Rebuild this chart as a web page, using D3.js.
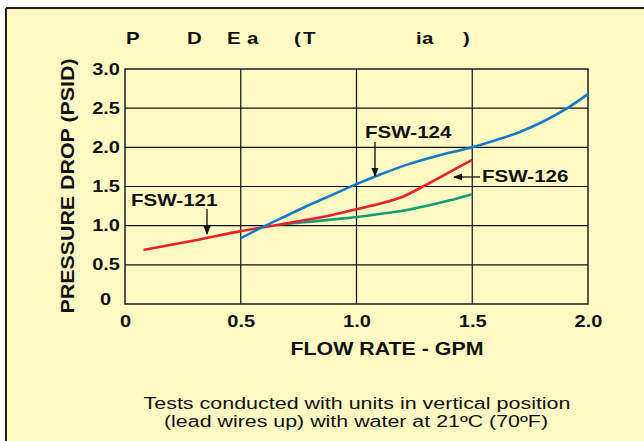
<!DOCTYPE html>
<html>
<head>
<meta charset="utf-8">
<script src="https://cdn.jsdelivr.net/npm/d3@7"></script>
<style>
  body { margin: 0; background: #fff; }
  text { font-family: "Liberation Sans", Arial, sans-serif; fill: #111; }
  .bold { font-weight: bold; }
</style>
</head>
<body>
<div id="chart"></div>
<script>
// tick values
var xTicks = [0, 0.5, 1.0, 1.5, 2.0];
var yTicks = [0, 0.5, 1.0, 1.5, 2.0, 2.5, 3.0];

// curves: [flow GPM, drop PSID]
var fsw121 = [[0.08, 0.69], [0.3, 0.81], [0.5, 0.93], [0.7, 1.03], [0.9, 1.14], [1.0, 1.21],
              [1.1, 1.28], [1.2, 1.37], [1.3, 1.52], [1.4, 1.68], [1.5, 1.84]];
var fsw124 = [[0.5, 0.84], [0.6, 0.99], [0.7, 1.13], [0.8, 1.27], [0.9, 1.40], [1.0, 1.53],
              [1.1, 1.65], [1.2, 1.76], [1.3, 1.85], [1.4, 1.93], [1.5, 2.0], [1.6, 2.09],
              [1.7, 2.19], [1.8, 2.32], [1.9, 2.48], [2.0, 2.68]];
var fsw126 = [[0.68, 1.02], [0.8, 1.05], [0.9, 1.08], [1.0, 1.11], [1.1, 1.15], [1.2, 1.19],
              [1.3, 1.25], [1.4, 1.32], [1.5, 1.40]];

// title as it shows in the picture (glyphs missing)
var titleParts = [["P", 126], ["D", 187], ["E", 227], ["a", 247], ["(", 294], ["T", 303],
                  ["i", 416], ["a", 422], [")", 463]];

var W = 644, H = 441;
var svg = d3.select("#chart").append("svg")
    .attr("width", W)
    .attr("height", H);

// the reference text is wide, stretch it sideways
function stretch(sel, k) {
    sel.each(function() {
        var w = this.getComputedTextLength();
        d3.select(this).attr("textLength", w * k).attr("lengthAdjust", "spacingAndGlyphs");
    });
}

// page background + frame lines
svg.append("rect").attr("x", 6).attr("y", 8).attr("width", W - 6).attr("height", H - 8)
    .attr("fill", "#fff9c4");
svg.append("line").attr("x1", 6).attr("y1", 8).attr("x2", W).attr("y2", 8)
    .attr("stroke", "#222").attr("stroke-width", 2);
svg.append("line").attr("x1", 6).attr("y1", 8).attr("x2", 6).attr("y2", H)
    .attr("stroke", "#222").attr("stroke-width", 2);

// scales
var x = d3.scaleLinear().domain([0, 2]).range([125, 588]);
var y = d3.scaleLinear().domain([0, 3]).range([304, 69]);

// grid
svg.append("g")
    .selectAll("line")
    .data(xTicks.slice(1, -1))
    .enter().append("line")
    .attr("x1", function(d) { return x(d); })
    .attr("x2", function(d) { return x(d); })
    .attr("y1", y(3)).attr("y2", y(0))
    .attr("stroke", "#111").attr("stroke-width", 1.2);
svg.append("g")
    .selectAll("line")
    .data(yTicks.slice(1, -1))
    .enter().append("line")
    .attr("x1", x(0)).attr("x2", x(2))
    .attr("y1", function(d) { return y(d); })
    .attr("y2", function(d) { return y(d); })
    .attr("stroke", "#111").attr("stroke-width", 1.2);
svg.append("rect")
    .attr("x", x(0)).attr("y", y(3))
    .attr("width", x(2) - x(0)).attr("height", y(0) - y(3))
    .attr("fill", "none").attr("stroke", "#111").attr("stroke-width", 1.4);

var fmt = function(d) { return d === 0 ? "0" : d3.format(".1f")(d); };

// axes (labels only)
var xAxis = svg.append("g")
    .attr("transform", "translate(0," + y(0) + ")")
    .call(d3.axisBottom(x).tickValues(xTicks).tickSize(0).tickPadding(12).tickFormat(fmt));
xAxis.select(".domain").remove();
xAxis.selectAll("text").attr("class", "bold").style("font-size", "16px")
    .style("font-family", "Liberation Sans, Arial, sans-serif").attr("fill", "#111");
stretch(xAxis.selectAll("text"), 1.25);

var yAxis = svg.append("g")
    .attr("transform", "translate(" + (x(0) - 5) + ",0)")
    .call(d3.axisLeft(y).tickValues(yTicks).tickSize(0).tickPadding(0).tickFormat(fmt));
yAxis.select(".domain").remove();
yAxis.selectAll("text").attr("class", "bold").style("font-size", "16px")
    .style("font-family", "Liberation Sans, Arial, sans-serif").attr("fill", "#111");
yAxis.selectAll(".tick").filter(function(d) { return d === 0; })
    .select("text").attr("x", -9).attr("y", -5);
stretch(yAxis.selectAll("text"), 1.25);

// curves
var line = d3.line()
    .x(function(d) { return x(d[0]); })
    .y(function(d) { return y(d[1]); })
    .curve(d3.curveMonotoneX);

[[fsw126, "#0f9e78"], [fsw121, "#e8202c"], [fsw124, "#1479c9"]].forEach(function(s) {
    svg.append("path")
        .datum(s[0])
        .attr("d", line)
        .attr("fill", "none")
        .attr("stroke", s[1])
        .attr("stroke-width", 2.6);
});

// arrow marker
svg.append("defs").append("marker")
    .attr("id", "arr")
    .attr("viewBox", "0 0 10 10")
    .attr("refX", 9).attr("refY", 5)
    .attr("markerWidth", 7).attr("markerHeight", 7)
    .attr("orient", "auto")
    .append("path").attr("d", "M0,1 L10,5 L0,9 Z").attr("fill", "#111");

// series labels
var labels = svg.append("g");
labels.append("text").attr("class", "bold").attr("x", 131).attr("y", 206)
    .style("font-size", "17px").text("FSW-121");
labels.append("text").attr("class", "bold").attr("x", 365).attr("y", 138)
    .style("font-size", "17px").text("FSW-124");
labels.append("text").attr("class", "bold").attr("x", 482).attr("y", 182)
    .style("font-size", "17px").text("FSW-126");
stretch(labels.selectAll("text"), 1.21);

svg.append("line").attr("x1", 207).attr("y1", 209).attr("x2", 207).attr("y2", 234)
    .attr("stroke", "#111").attr("stroke-width", 1.3).attr("marker-end", "url(#arr)");
svg.append("line").attr("x1", 375).attr("y1", 142).attr("x2", 375).attr("y2", 176)
    .attr("stroke", "#111").attr("stroke-width", 1.3).attr("marker-end", "url(#arr)");
svg.append("line").attr("x1", 480).attr("y1", 177).attr("x2", 454).attr("y2", 177)
    .attr("stroke", "#111").attr("stroke-width", 1.3).attr("marker-end", "url(#arr)");

// title fragments
var title = svg.append("g");
title.selectAll("text")
    .data(titleParts)
    .enter().append("text")
    .attr("class", "bold")
    .attr("x", function(d) { return d[1]; })
    .attr("y", 44)
    .style("font-size", "17px")
    .text(function(d) { return d[0]; });
stretch(title.selectAll("text"), 1.2);

// axis titles
svg.append("text").attr("class", "bold")
    .attr("transform", "translate(74,186) rotate(-90)")
    .attr("text-anchor", "middle")
    .style("font-size", "18px")
    .attr("textLength", 255).attr("lengthAdjust", "spacingAndGlyphs")
    .text("PRESSURE DROP (PSID)");
svg.append("text").attr("class", "bold")
    .attr("x", 387).attr("y", 355)
    .attr("text-anchor", "middle")
    .style("font-size", "17.5px")
    .attr("textLength", 193).attr("lengthAdjust", "spacingAndGlyphs")
    .text("FLOW RATE - GPM");

// footnote
svg.append("text").attr("x", 357).attr("y", 409)
    .attr("text-anchor", "middle").style("font-size", "16px")
    .attr("textLength", 427).attr("lengthAdjust", "spacingAndGlyphs")
    .text("Tests conducted with units in vertical position");
svg.append("text").attr("x", 356).attr("y", 427)
    .attr("text-anchor", "middle").style("font-size", "16px")
    .attr("textLength", 384).attr("lengthAdjust", "spacingAndGlyphs")
    .text("(lead wires up) with water at 21ºC (70ºF)");
</script>
</body>
</html>
